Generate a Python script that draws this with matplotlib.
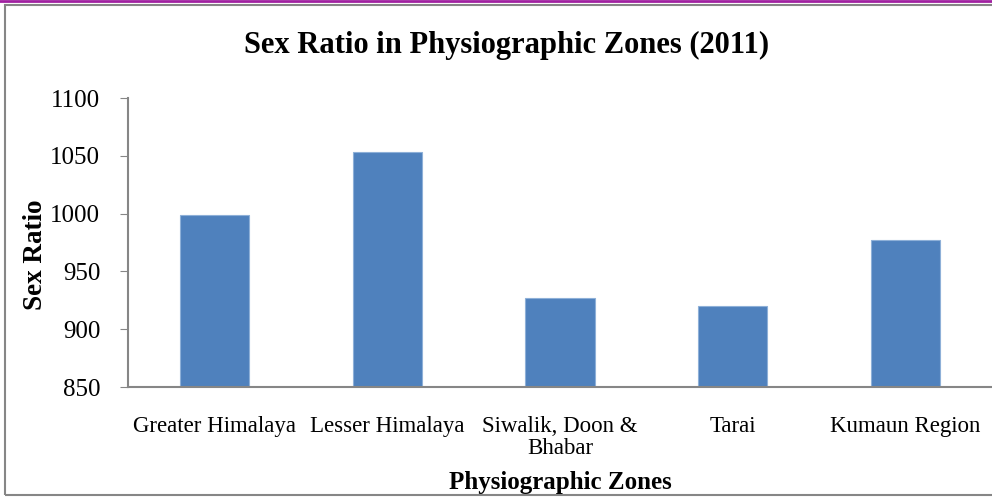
import matplotlib.pyplot as plt
from matplotlib.patches import Rectangle

# ---- data ----
zones = ["Greater Himalaya", "Lesser Himalaya", "Siwalik, Doon &\nBhabar", "Tarai", "Kumaun Region"]
sex_ratio = [999, 1053, 927, 920, 977]
y_ticks = [850, 900, 950, 1000, 1050, 1100]

plt.rcParams['font.family'] = ['Liberation Serif', 'DejaVu Serif']

fig = plt.figure(figsize=(9.92, 4.99), dpi=100)
ax = fig.add_axes([0.129, 0.2244, 0.871, 0.5792])

ax.bar(range(len(zones)), sex_ratio, width=0.4, bottom=0, color="#4F81BD",
       edgecolor="#8EB0D8", linewidth=0.8)
ax.set_ylim(850, 1100)
ax.set_xlim(-0.5, len(zones) - 0.5)
ax.set_yticks(y_ticks)
ax.set_xticks(range(len(zones)))
ax.set_xticklabels(zones, fontsize=16.5, linespacing=1.05)
ax.tick_params(axis="y", labelsize=18, length=6, color="#868686", pad=14)
ax.tick_params(axis="x", length=0, pad=21)

for side in ["top", "right"]:
    ax.spines[side].set_visible(False)
for side in ["left", "bottom"]:
    ax.spines[side].set_color("#868686")
    ax.spines[side].set_linewidth(1.5)

fig.text(507 / 992, 1 - 45 / 499, "Sex Ratio in Physiographic Zones (2011)", fontsize=22,
         fontweight="bold", ha="center", va="center")
ax.set_ylabel("Sex Ratio", fontsize=19.5, fontweight="bold")
ax.yaxis.set_label_coords(-0.0926, 0.457)
ax.set_xlabel("Physiographic Zones", fontsize=18, fontweight="bold", labelpad=9)

# ---- outer chart border and top purple rule ----
fig.patches.append(Rectangle((5 / 992, 4 / 499), 1.0, 490 / 499, transform=fig.transFigure,
                             fill=False, edgecolor="#868686", linewidth=1.5))
fig.add_artist(plt.Line2D([0, 1], [1 - 1 / 499, 1 - 1 / 499], transform=fig.transFigure,
                          color="#A020A0", linewidth=2))

plt.savefig("out.png", dpi=100)
plt.close()
